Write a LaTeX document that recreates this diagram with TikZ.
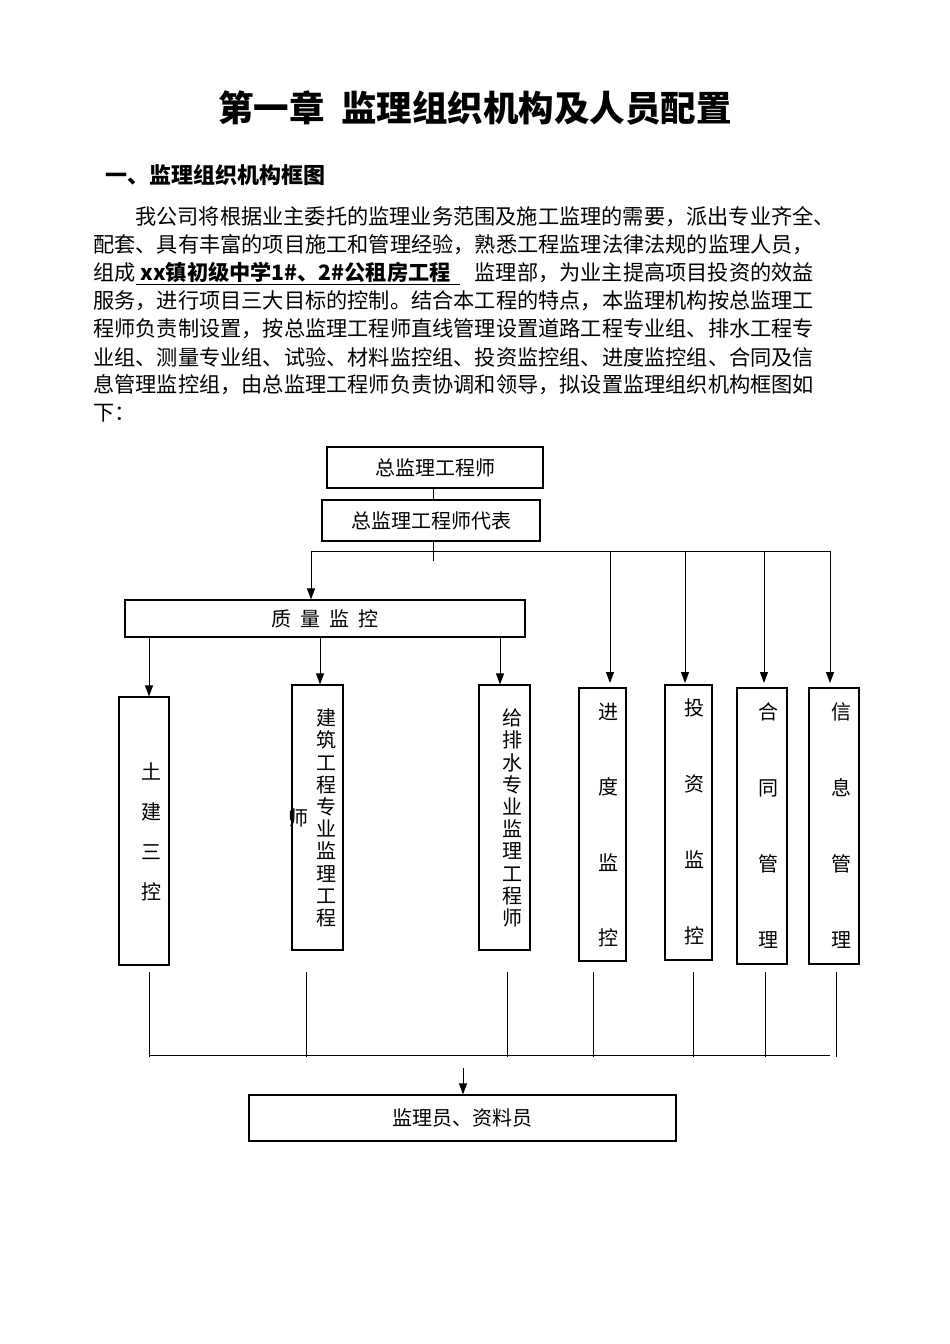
\documentclass[tikz,border=0pt]{standalone}
\usepackage{fontspec}
\setmainfont{Noto Sans CJK SC}
\newfontfamily\cjk{Noto Sans CJK SC}
\usetikzlibrary{arrows.meta}
\begin{document}
\begin{tikzpicture}[x=1pt,y=-1pt,
  bx/.style={draw,line width=1.2pt,inner sep=0pt},
  t/.style={font=\fontsize{20}{22}\selectfont,inner sep=0pt},
  vt/.style={font=\fontsize{20}{22.2}\selectfont,align=center,inner sep=0pt},
  ln/.style={line width=1pt},
  ar/.style={line width=1pt,-{Triangle[length=11pt,width=8pt]}},
  para/.style={font=\fontsize{21.2}{22}\selectfont,anchor=west,inner sep=0pt}]
\useasboundingbox (0,0) rectangle (950,1344);
\fill[white] (0,0) rectangle (950,1344);
\node[font=\fontsize{35.5}{38}\selectfont\bfseries] (title) at (475,108) {第一章\ \ 监理组织机构及人员配置};
\node[font=\fontsize{22}{24}\selectfont\bfseries,anchor=west,inner sep=0pt] (h1) at (105,175) {一、监理组织机构框图};
\node[para] (p1) at (135,217) {我公司将根据业主委托的监理业务范围及施工监理的需要，派出专业齐全、};
\node[para] (p2) at (93,245) {配套、具有丰富的项目施工和管理经验，熟悉工程监理法律法规的监理人员，};
\node[para] (p3) at (93,273) {组成\underline{\bfseries\ xx镇初级中学1\#、2\#公租房工程\ \ }\ \ \ 监理部，为业主提高项目投资的效益};
\node[para] (p4) at (93,301) {服务，进行项目三大目标的控制。结合本工程的特点，本监理机构按总监理工};
\node[para] (p5) at (93,329) {程师负责制设置，按总监理工程师直线管理设置道路工程专业组、排水工程专};
\node[para] (p6) at (93,357) {业组、测量专业组、试验、材料监控组、投资监控组、进度监控组、合同及信};
\node[para] (p7) at (93,385) {息管理监控组，由总监理工程师负责协调和领导，拟设置监理组织机构框图如};
\node[para] (p8) at (93,413) {下：};

\node[bx,minimum width=216,minimum height=41,t] (A) at (435,467.5) {总监理工程师};
\node[bx,minimum width=218,minimum height=41,t] (B) at (431,520.5) {总监理工程师代表};
\draw[ln] (A.south -| 433,0) -- (B.north -| 433,0);
\coordinate (b1) at (433,541); \coordinate (b2) at (433,561);
\draw[ln] (b1) -- (b2);
\coordinate (hl) at (311,551); \coordinate (hr) at (830,551);
\draw[ln] (hl) -- (hr);
\node[bx,minimum width=400,minimum height=37,t] (Q) at (325,618.5) {质\ \ 量\ \ 监\ \ 控};
\draw[ar] (hl) -- (Q.north -| hl);

\node[bx,minimum width=50,minimum height=268] (T) at (144,831) {};
\node[bx,minimum width=51,minimum height=265] (J) at (317.5,817.5) {};
\node[bx,minimum width=51,minimum height=265] (G) at (504.5,817.5) {};
\node[bx,minimum width=47,minimum height=273] (JD) at (602.5,824.5) {};
\node[bx,minimum width=47,minimum height=275] (TZ) at (688.5,822.5) {};
\node[bx,minimum width=50,minimum height=276] (HT) at (762,826) {};
\node[bx,minimum width=50,minimum height=276] (XX) at (834,826) {};

\node[vt,font=\fontsize{20}{40}\selectfont] (Tt) at (151,832) {土\\建\\三\\控};
\node[vt,font=\fontsize{20}{75.5}\selectfont] (JDt) at (608,825) {进\\度\\监\\控};
\node[vt,font=\fontsize{20}{76}\selectfont] (TZt) at (694,822) {投\\资\\监\\控};
\node[vt,font=\fontsize{20}{76}\selectfont] (HTt) at (768,826) {合\\同\\管\\理};
\node[vt,font=\fontsize{20}{76}\selectfont] (XXt) at (841,826) {信\\息\\管\\理};
\node[vt] (Jt) at (326,818) {建\\筑\\工\\程\\专\\业\\监\\理\\工\\程};
\node[t] (Js) at (298,818) {师};
\node[vt] (Gt) at (512,818) {给\\排\\水\\专\\业\\监\\理\\工\\程\\师};

\draw[ar] (Q.south -| 149,0) -- (T.north -| 149,0);
\draw[ar] (Q.south -| 320,0) -- (J.north -| 320,0);
\draw[ar] (Q.south -| 500,0) -- (G.north -| 500,0);
\draw[ar] (hr -| 610,0) -- (610,683);
\draw[ar] (hr -| 685,0) -- (685,683);
\draw[ar] (hr -| 764,0) -- (764,683);
\draw[ar] (hr) -- (830,683);

\coordinate (ll) at (149,1055); \coordinate (lr) at (830,1055);
\foreach \xx in {149,306,507,593,693,765,836}{
  \draw[ln] (\xx,972) -- (\xx,1057);}
\draw[ln] (ll) -- (lr);
\node[bx,minimum width=427,minimum height=46,t] (S) at (462.5,1118) {监理员、资料员};
\coordinate (sa) at (463,1068);
\draw[ar] (sa) -- (S.north -| sa);
\end{tikzpicture}
\end{document}
